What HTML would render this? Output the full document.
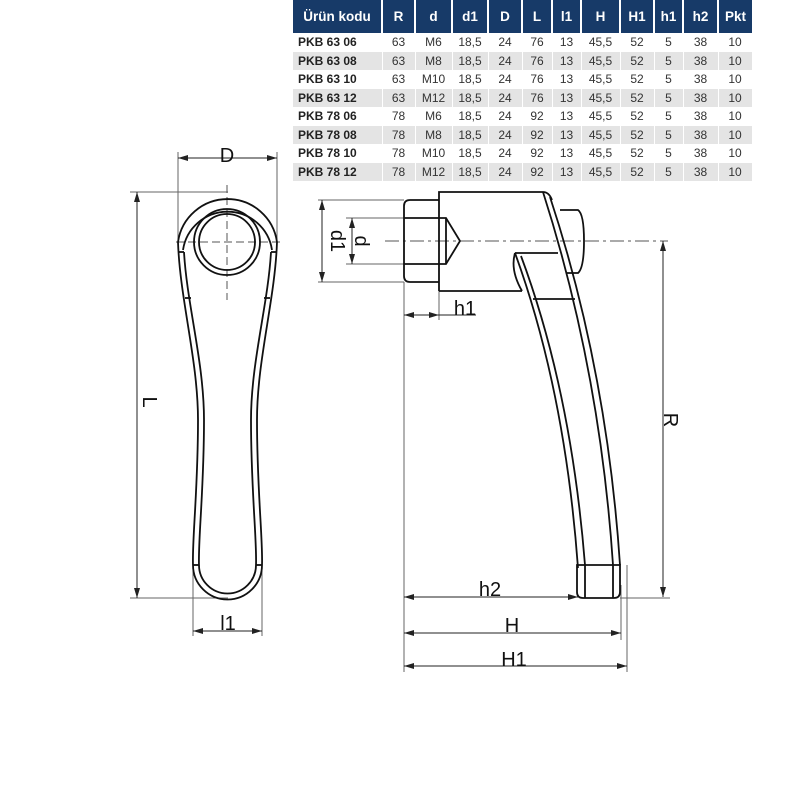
<!DOCTYPE html>
<html><head><meta charset="utf-8"><style>
html,body{margin:0;padding:0;background:#fff;width:800px;height:800px;overflow:hidden}
svg{position:absolute;left:0;top:0}
table{position:absolute;left:293px;top:0;width:459px;table-layout:fixed;border-collapse:collapse;font-family:"Liberation Sans",sans-serif;font-size:12px;color:#333}
th{background:#173a68;color:#fff;height:33px;padding:0;font-weight:bold;font-size:13.5px;border-right:2px solid #fff;white-space:nowrap;overflow:hidden}
th:last-child{border-right:none}
td{height:18.5px;padding:0;text-align:center;border-right:1px solid #fff;white-space:nowrap;overflow:hidden}
td:first-child{text-align:left;font-weight:bold;padding-left:5px;color:#222}
tr:nth-child(odd) td{background:#e4e4e4}
</style></head><body>
<table>
<colgroup><col style="width:89px"><col style="width:33px"><col style="width:37px"><col style="width:36px"><col style="width:34px"><col style="width:30px"><col style="width:29px"><col style="width:39px"><col style="width:34px"><col style="width:29px"><col style="width:35px"><col style="width:34px"></colgroup>
<tr><th>Ürün kodu</th><th>R</th><th>d</th><th>d1</th><th>D</th><th>L</th><th>l1</th><th>H</th><th>H1</th><th>h1</th><th>h2</th><th>Pkt</th></tr>
<tr><td>PKB 63 06</td><td>63</td><td>M6</td><td>18,5</td><td>24</td><td>76</td><td>13</td><td>45,5</td><td>52</td><td>5</td><td>38</td><td>10</td></tr>
<tr><td>PKB 63 08</td><td>63</td><td>M8</td><td>18,5</td><td>24</td><td>76</td><td>13</td><td>45,5</td><td>52</td><td>5</td><td>38</td><td>10</td></tr>
<tr><td>PKB 63 10</td><td>63</td><td>M10</td><td>18,5</td><td>24</td><td>76</td><td>13</td><td>45,5</td><td>52</td><td>5</td><td>38</td><td>10</td></tr>
<tr><td>PKB 63 12</td><td>63</td><td>M12</td><td>18,5</td><td>24</td><td>76</td><td>13</td><td>45,5</td><td>52</td><td>5</td><td>38</td><td>10</td></tr>
<tr><td>PKB 78 06</td><td>78</td><td>M6</td><td>18,5</td><td>24</td><td>92</td><td>13</td><td>45,5</td><td>52</td><td>5</td><td>38</td><td>10</td></tr>
<tr><td>PKB 78 08</td><td>78</td><td>M8</td><td>18,5</td><td>24</td><td>92</td><td>13</td><td>45,5</td><td>52</td><td>5</td><td>38</td><td>10</td></tr>
<tr><td>PKB 78 10</td><td>78</td><td>M10</td><td>18,5</td><td>24</td><td>92</td><td>13</td><td>45,5</td><td>52</td><td>5</td><td>38</td><td>10</td></tr>
<tr><td>PKB 78 12</td><td>78</td><td>M12</td><td>18,5</td><td>24</td><td>92</td><td>13</td><td>45,5</td><td>52</td><td>5</td><td>38</td><td>10</td></tr>
</table>
<svg width="800" height="800" viewBox="0 0 800 800" font-family="Liberation Sans, sans-serif">
<defs>
<marker id="a" viewBox="0 0 10 6" refX="10" refY="3" markerWidth="10" markerHeight="6" orient="auto-start-reverse" markerUnits="userSpaceOnUse"><path d="M0,0L10,3L0,6z" fill="#222"/></marker>
</defs>
<g stroke="#666" stroke-width="1" fill="none">
<line x1="178" y1="152" x2="178" y2="242"/><line x1="277" y1="152" x2="277" y2="242"/>
<line x1="130" y1="192" x2="228" y2="192"/><line x1="130" y1="598" x2="228" y2="598"/>
<line x1="193" y1="565" x2="193" y2="636"/><line x1="262" y1="565" x2="262" y2="636"/>
<line x1="318" y1="200" x2="404" y2="200"/><line x1="318" y1="282" x2="404" y2="282"/>
<line x1="346" y1="218" x2="404" y2="218"/><line x1="346" y1="264" x2="404" y2="264"/>
<line x1="404" y1="282" x2="404" y2="672"/><line x1="439" y1="291" x2="439" y2="320"/>
<line x1="620" y1="598" x2="670" y2="598"/>
<line x1="621" y1="585" x2="621" y2="640"/><line x1="627" y1="565" x2="627" y2="672"/>
</g>
<g stroke="#555" stroke-width="1" stroke-dasharray="14,4,3,4" fill="none">
<line x1="176" y1="242" x2="283" y2="242" stroke-dasharray="8,4"/>
<line x1="227" y1="185" x2="227" y2="300" stroke-dasharray="8,4"/>
<line x1="385" y1="241" x2="668" y2="241"/>
</g>
<g stroke="#222" stroke-width="1" fill="none">
<line x1="178" y1="158" x2="277" y2="158" marker-start="url(#a)" marker-end="url(#a)"/>
<line x1="137" y1="192" x2="137" y2="598" marker-start="url(#a)" marker-end="url(#a)"/>
<line x1="193" y1="631" x2="262" y2="631" marker-start="url(#a)" marker-end="url(#a)"/>
<line x1="322" y1="200" x2="322" y2="282" marker-start="url(#a)" marker-end="url(#a)"/>
<line x1="352" y1="218" x2="352" y2="264" marker-start="url(#a)" marker-end="url(#a)"/>
<line x1="404" y1="315" x2="439" y2="315" marker-start="url(#a)" marker-end="url(#a)"/>
<line x1="439" y1="315" x2="476" y2="315"/>
<line x1="404" y1="597" x2="578" y2="597" marker-start="url(#a)" marker-end="url(#a)"/>
<line x1="404" y1="633" x2="621" y2="633" marker-start="url(#a)" marker-end="url(#a)"/>
<line x1="404" y1="666" x2="627" y2="666" marker-start="url(#a)" marker-end="url(#a)"/>
<line x1="663" y1="241" x2="663" y2="597" marker-start="url(#a)" marker-end="url(#a)"/>
</g>
<g stroke="#111" stroke-width="1.8" fill="none">
<path d="M178,242 A50,50 0 0 1 277,242"/>
<path d="M183,250 A45,45 0 0 1 272,250"/>
<circle cx="227" cy="242" r="33"/><circle cx="227" cy="242" r="28"/>
<path d="M178,242 C180,300 198,360 198,420 C198,490 192,540 193,565 A34.5,34.5 0 0 0 262,565 C263,540 257,490 257,420 C257,360 275,300 277,242"/>
<path d="M184,252 C187,305 204,362 204,420 C204,490 198,540 199,565 A28.5,28.5 0 0 0 256,565 C257,540 251,490 251,420 C251,362 268,305 271,252"/>
<line x1="178" y1="252" x2="184" y2="252"/><line x1="277" y1="252" x2="271" y2="252"/>
<line x1="185" y1="298" x2="191" y2="298"/><line x1="270" y1="298" x2="264" y2="298"/>
<line x1="193" y1="565" x2="199" y2="565"/><line x1="262" y1="565" x2="256" y2="565"/>
<path d="M439,200 H410 Q404,200 404,206 V276 Q404,282 410,282 H439"/>
<path d="M404,218 H446 L460,241 L446,264 H404"/><line x1="446" y1="218" x2="446" y2="264"/>
<path d="M439,291 V192 H543 Q549,192 552,200"/>
<path d="M560,210 H578 Q584,214 584,241 Q584,268 578,273 H567"/>
<line x1="439" y1="291" x2="522" y2="291"/>
<path d="M515,253 H558"/>
<path d="M515,253 Q510,270 522,291"/>
<path d="M515,253 Q565,390 578,568"/>
<path d="M521,256 Q571,390 585,565"/>
<path d="M543,192 Q600,370 613,565"/>
<path d="M550,197 Q607,370 620,565"/>
<line x1="533" y1="299" x2="575" y2="299"/>
<path d="M577,565 V592 Q577,598 583,598 H614 Q620,598 620,592 V565 Z"/>
<line x1="585" y1="565" x2="585" y2="598"/><line x1="613" y1="565" x2="613" y2="598"/>
</g>
<g fill="#111" font-size="20">
<text x="227" y="162" text-anchor="middle">D</text>
<text x="228" y="630" text-anchor="middle">l1</text>
<text x="150" y="395" text-anchor="middle" transform="rotate(90 143 395)">L</text>
<text x="465" y="315" text-anchor="middle">h1</text>
<text x="490" y="596" text-anchor="middle">h2</text>
<text x="512" y="632" text-anchor="middle">H</text>
<text x="514" y="666" text-anchor="middle">H1</text>
<text transform="translate(338,241) rotate(90)" text-anchor="middle" y="7">d1</text>
<text transform="translate(362,241) rotate(90)" text-anchor="middle" y="7">d</text>
<text transform="translate(671,420) rotate(90)" text-anchor="middle" y="7">R</text>
</g>
</svg>
</body></html>
